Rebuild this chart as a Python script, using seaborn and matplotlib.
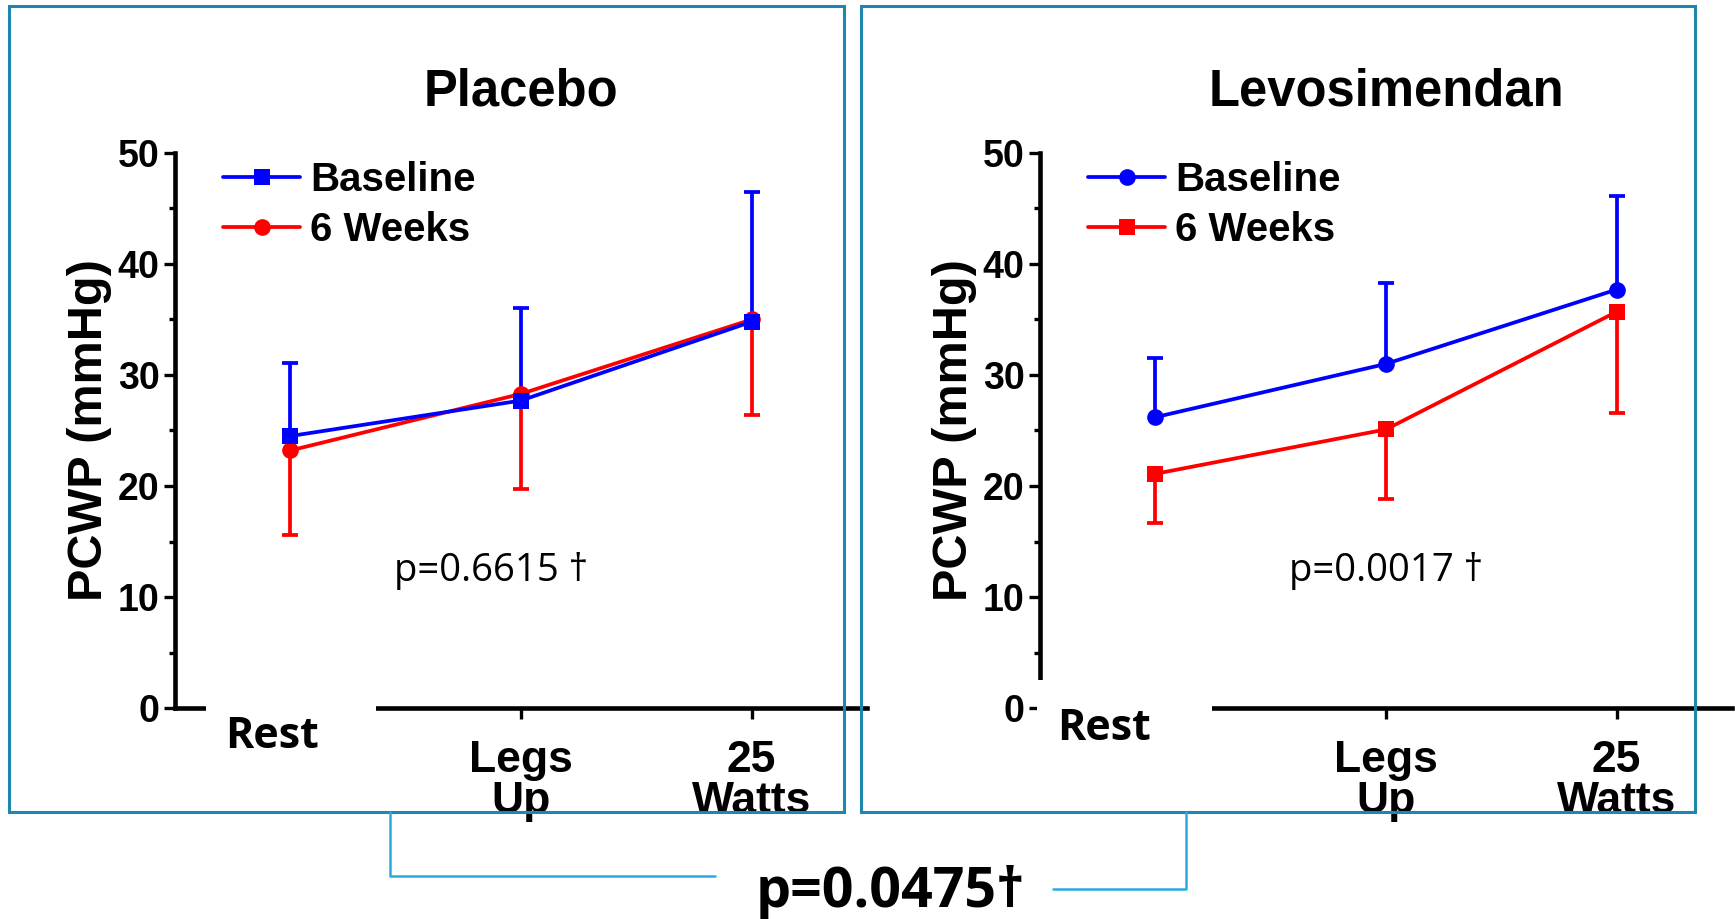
import numpy as np
import pandas as pd
import matplotlib
matplotlib.use('Agg')
import matplotlib.pyplot as plt
from matplotlib.lines import Line2D
from matplotlib.patches import Rectangle
import seaborn as sns

# Values (mean PCWP and one-sided error length)
stages = ['Rest', 'Legs\nUp', '25\nWatts']
groups = ['Baseline', '6 Weeks']

placebo_base = [24.5, 27.7, 34.8]
placebo_base_err = [6.6, 8.3, 11.7]
placebo_6wk = [23.2, 28.3, 35.0]
placebo_6wk_err = [7.6, 8.6, 8.6]

levo_base = [26.2, 31.0, 37.7]
levo_base_err = [5.3, 7.3, 8.4]
levo_6wk = [21.1, 25.1, 35.7]
levo_6wk_err = [4.4, 6.3, 9.1]

p_placebo = 'p=0.6615 \u2020'
p_levo = 'p=0.0017 \u2020'
p_between = 'p=0.0475\u2020'

sns.set_theme(style='ticks')
plt.rcParams['font.family'] = ['Liberation Sans', 'DejaVu Sans']
plt.rcParams['font.weight'] = 'bold'
for k in ['text.color', 'axes.labelcolor', 'xtick.color', 'ytick.color', 'axes.edgecolor']:
    plt.rcParams[k] = 'black'

W, H = 1735, 919
fig = plt.figure(figsize=(W / 100, H / 100), dpi=100)


def fx(x):
    return x / W


def fy(y):
    return 1 - y / H


colors = {'Baseline': '#0000FF', '6 Weeks': '#FF0000'}
LW = 2.7
calibri_like = ['Open Sans', 'DejaVu Sans']


def panel(left, title, base, base_err, wk, wk_err, markers, ptext, px):
    ax = fig.add_axes([fx(left), fy(708), fx(692), 555 / H])
    df = pd.DataFrame({
        'pos': list(range(3)) * 2,
        'PCWP': wk + base,
        'time': ['6 Weeks'] * 3 + ['Baseline'] * 3,
    })
    # red first, blue on top
    sns.lineplot(data=df, x='pos', y='PCWP', hue='time', style='time',
                 hue_order=['6 Weeks', 'Baseline'], style_order=['6 Weeks', 'Baseline'],
                 palette=colors, markers=markers, dashes=False, sort=False,
                 linewidth=LW, markersize=12, markeredgewidth=0,
                 legend=False, ax=ax, zorder=4, clip_on=False)
    x = np.arange(3)
    # baseline bars point up, 6-week bars point down
    eb = ax.errorbar(x, base, yerr=[np.zeros(3), base_err], fmt='none',
                     ecolor=colors['Baseline'], elinewidth=LW, capsize=5.5,
                     capthick=LW, zorder=3, clip_on=False)
    eb[1][0].set_visible(False)
    eb = ax.errorbar(x, wk, yerr=[wk_err, np.zeros(3)], fmt='none',
                     ecolor=colors['6 Weeks'], elinewidth=LW, capsize=5.5,
                     capthick=LW, zorder=2, clip_on=False)
    eb[1][1].set_visible(False)

    ax.set_xlim(-0.5, 2.5)
    ax.set_ylim(0, 50)
    ax.set_yticks(range(0, 51, 10))
    ax.set_yticks(range(5, 50, 10), minor=True)
    ax.set_xticks(x)
    ax.set_xticklabels([''] + stages[1:], fontsize=32, fontweight='bold',
                       linespacing=1.0)
    ax.tick_params(axis='y', which='major', labelsize=27, length=8, width=2.4, pad=3)
    ax.tick_params(axis='y', which='minor', length=4, width=2.4)
    ax.tick_params(axis='x', length=8, width=2.4, pad=15)
    for t in ax.get_yticklabels():
        t.set_fontweight('bold')
    sns.despine(ax=ax)
    for s in ['left', 'bottom']:
        ax.spines[s].set_linewidth(3.3)
    ax.set_xlabel('')
    ax.set_ylabel('PCWP (mmHg)', fontsize=35, fontweight='bold', labelpad=4)
    ax.set_title(title, fontsize=36.5, fontweight='bold', pad=34)

    handles = [Line2D([], [], color=colors[g], marker=markers[g], markersize=12,
                      markeredgewidth=0, linewidth=LW) for g in groups]
    ax.legend(handles, groups, loc='upper left', bbox_to_anchor=(0.07, 0.985),
              frameon=False, handlelength=1.9, handletextpad=0.25,
              labelspacing=0.3, borderpad=0, borderaxespad=0,
              prop={'weight': 'bold', 'size': 29})

    ax.text(px, 12.3, ptext, ha='center', va='center', fontsize=27.5,
            fontweight='normal', family=calibri_like)
    return ax


ax1 = panel(175, 'Placebo', placebo_base, placebo_base_err, placebo_6wk,
            placebo_6wk_err, {'Baseline': 's', '6 Weeks': 'o'}, p_placebo, 0.87)
ax2 = panel(1040, 'Levosimendan', levo_base, levo_base_err, levo_6wk,
            levo_6wk_err, {'Baseline': 'o', '6 Weeks': 's'}, p_levo, 1.0)

# white patches behind the "Rest" labels (pasted-over look of the original)
for x0, x1, y0 in [(206, 376, 692), (1037, 1212, 680)]:
    fig.add_artist(Rectangle((fx(x0), fy(811)), fx(x1 - x0), (811 - y0) / H,
                             transform=fig.transFigure, facecolor='white',
                             edgecolor='none', zorder=5))
fig.text(fx(272), fy(736), stages[0], ha='center', va='center', fontsize=31,
         fontweight='bold', family=calibri_like, zorder=6)
fig.text(fx(1104), fy(728), stages[0], ha='center', va='center', fontsize=31,
         fontweight='bold', family=calibri_like, zorder=6)

# panel frames
box_col = '#1F86B0'
for x0, x1 in [(9, 844), (861, 1695)]:
    fig.add_artist(Rectangle((fx(x0), fy(812)), fx(x1 - x0), (812 - 6) / H,
                             transform=fig.transFigure, facecolor='none',
                             edgecolor=box_col, linewidth=2.2, zorder=7))

# bracket between panels
br_col = '#29ABE2'
fig.add_artist(Line2D([fx(390), fx(390), fx(715)], [fy(812), fy(876), fy(876)],
                      transform=fig.transFigure, color=br_col, linewidth=1.8, zorder=7))
fig.add_artist(Line2D([fx(1053), fx(1186), fx(1186)], [fy(889), fy(889), fy(812)],
                      transform=fig.transFigure, color=br_col, linewidth=1.8, zorder=7))
fig.text(fx(890), fy(892), p_between, ha='center', va='center', fontsize=40,
         fontweight='bold', family=calibri_like, zorder=8)

fig.savefig('out.png', dpi=100, facecolor='white')
